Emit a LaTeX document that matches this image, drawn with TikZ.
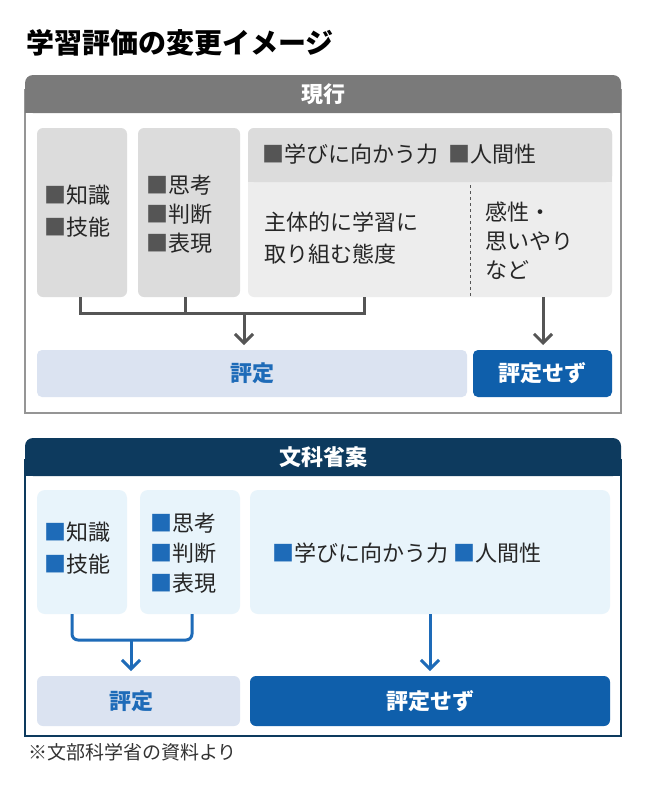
\documentclass[tikz,border=0pt]{standalone}
\usepackage{fontspec}
\setmainfont{Noto Sans CJK JP}
\usetikzlibrary{arrows.meta}
\definecolor{hdgray}{HTML}{7A7A7A}
\definecolor{boxgray}{HTML}{DCDCDC}
\definecolor{boxlight}{HTML}{EDEDED}
\definecolor{linegray}{HTML}{555555}
\definecolor{navy}{HTML}{0D3A5E}
\definecolor{paleblue}{HTML}{DBE3F1}
\definecolor{skyblue}{HTML}{E8F4FB}
\definecolor{midblue}{HTML}{1E6BB8}
\definecolor{darkblue}{HTML}{0F5FAB}
\newcommand{\gsq}{{\color{linegray}■}}
\newcommand{\bsq}{{\color{midblue}■}}
\tikzset{
  txt/.style={anchor=west, inner sep=0pt, font=\fontsize{22}{30}\selectfont, text=black!85},
  headtxt/.style={inner sep=0pt, font=\fontsize{22}{26}\selectfont\bfseries, text=white},
  conn/.style={line width=3pt, linegray},
  bconn/.style={line width=3pt, midblue},
  tip/.style={-{Straight Barb[length=9pt,width=18pt,line width=3pt]}}
}
\begin{document}
\begin{tikzpicture}[x=1pt,y=-1pt]
  \useasboundingbox (0,0) rectangle (646,800);
  \fill[white] (0,0) rectangle (646,800);
  \node[anchor=west, inner sep=0pt, font=\fontsize{28}{32}\selectfont\bfseries] (title) at (26,43) {学習評価の変更イメージ};
  % current
  \draw[line width=1.5pt, hdgray!80] (25,90) rectangle (621,413);
  \fill[hdgray, rounded corners=8pt] (25,75) rectangle (621,113);
  \fill[hdgray] (25,100) rectangle (621,113);
  \node[headtxt] (cur) at (323,94) {現行};
  \fill[boxgray, rounded corners=6pt] (37,128) rectangle (127,297);
  \fill[boxgray, rounded corners=6pt] (138,128) rectangle (240,297);
  \fill[boxlight, rounded corners=6pt] (248,128) rectangle (612,297);
  \fill[boxgray, rounded corners=6pt] (248,128) rectangle (612,182);
  \fill[boxgray] (248,160) rectangle (612,182);
  \draw[dashed, linegray, line width=0.8pt] (470,185) -- (470,297);
  \node[txt, align=left, font=\fontsize{22}{32}\selectfont] (kc) at (44,211) {\gsq 知識\\\gsq 技能};
  \node[txt, align=left, font=\fontsize{22}{29}\selectfont] (sk) at (146,214) {\gsq 思考\\\gsq 判断\\\gsq 表現};
  \node[txt] (mb) at (262,154) {\gsq 学びに向かう力\ \ \gsq 人間性};
  \node[txt, align=left, font=\fontsize{22}{32}\selectfont] (sh) at (264,238) {主体的に学習に\\取り組む態度};
  \node[txt, align=left, font=\fontsize{22}{29}\selectfont] (ks) at (485,241) {感性・\\思いやり\\など};
  \fill[paleblue, rounded corners=5pt] (37,350) rectangle (467,397);
  \node[font=\fontsize{22}{26}\selectfont\bfseries, text=midblue] (hy) at (252,373) {評定};
  \fill[darkblue, rounded corners=5pt] (473,350) rectangle (612,397);
  \node[headtxt] (hn) at (542,373) {評定せず};
  \draw[conn] (80,297) -- (80,313) -- (364,313) -- (364,297);
  \draw[conn] (185,297) -- (185,313);
  \draw[conn, tip] (244,313) -- (244,345);
  \draw[conn, tip] (543,297) -- (543,345);
  % proposal
  \draw[line width=1.5pt, navy] (25,460) rectangle (621,736);
  \fill[navy, rounded corners=8pt] (25,438) rectangle (621,476);
  \fill[navy] (25,462) rectangle (621,476);
  \node[headtxt] (prop) at (323,457) {文科省案};
  \fill[skyblue, rounded corners=8pt] (37,490) rectangle (127,614);
  \fill[skyblue, rounded corners=8pt] (140,490) rectangle (240,614);
  \fill[skyblue, rounded corners=8pt] (250,490) rectangle (610,614);
  \node[txt, align=left, font=\fontsize{22}{32}\selectfont] (kc2) at (44,548) {\bsq 知識\\\bsq 技能};
  \node[txt, align=left, font=\fontsize{22}{30}\selectfont] (sk2) at (150,553) {\bsq 思考\\\bsq 判断\\\bsq 表現};
  \node[txt] (mb2) at (272,553) {\bsq 学びに向かう力\ \bsq 人間性};
  \fill[paleblue, rounded corners=6pt] (37,676) rectangle (240,726);
  \node[font=\fontsize{22}{26}\selectfont\bfseries, text=midblue] (hy2) at (131,701) {評定};
  \fill[darkblue, rounded corners=6pt] (250,676) rectangle (610,726);
  \node[headtxt] (hn2) at (430,701) {評定せず};
  \draw[bconn, rounded corners=6pt] (72,614) -- (72,640) -- (192,640) -- (192,614);
  \draw[bconn, tip] (131,640) -- (131,671);
  \draw[bconn, tip] (430,614) -- (430,671);
  \node[anchor=west, inner sep=0pt, font=\fontsize{19}{22}\selectfont, text=black!80] (note) at (28,752) {※文部科学省の資料より};
\end{tikzpicture}
\end{document}
